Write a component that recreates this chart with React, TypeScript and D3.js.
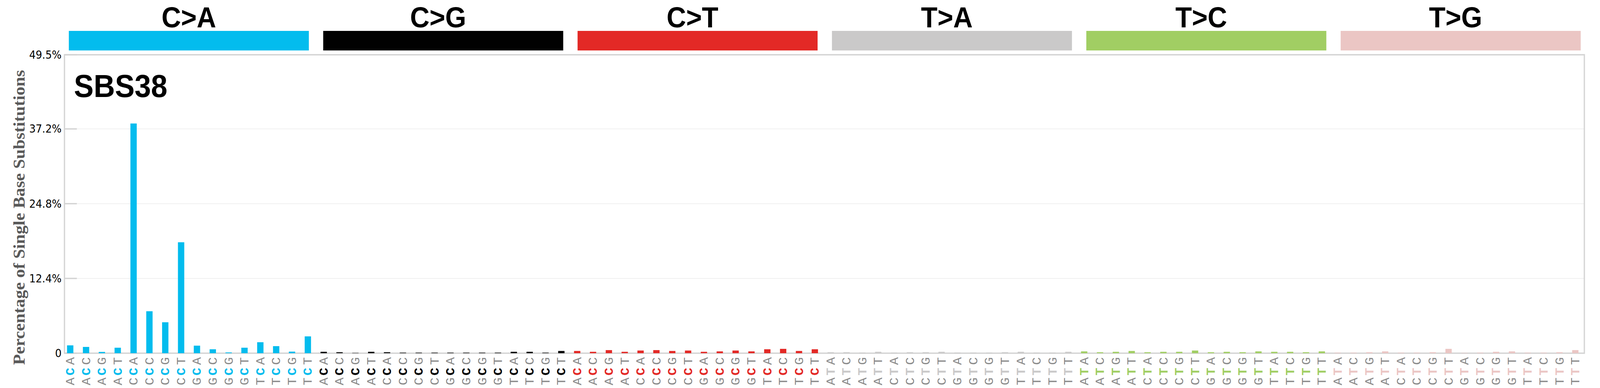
import React from 'react';
import * as d3 from 'd3';

// Mutation classes shown in the coloured header strip
const mutationTypes = ['C>A', 'C>G', 'C>T', 'T>A', 'T>C', 'T>G'];
const typeColors = ['#03BCEE', '#010101', '#E32926', '#CAC9C9', '#A1CE63', '#EBC6C4'];

// Trinucleotide contexts (5' base, mutated base, 3' base)
const cContexts = ['ACA', 'ACC', 'ACG', 'ACT', 'CCA', 'CCC', 'CCG', 'CCT', 'GCA', 'GCC', 'GCG', 'GCT', 'TCA', 'TCC', 'TCG', 'TCT'];
const tContexts = ['ATA', 'ATC', 'ATG', 'ATT', 'CTA', 'CTC', 'CTG', 'CTT', 'GTA', 'GTC', 'GTG', 'GTT', 'TTA', 'TTC', 'TTG', 'TTT'];

// Percentages
const caValues = [1.30, 1.04, 0.21, 0.91, 38.1, 6.96, 5.13, 18.4, 1.25, 0.65, 0.13, 0.91, 1.82, 1.17, 0.26, 2.79];
const cgValues = [0.23, 0.16, 0.05, 0.23, 0.16, 0.09, 0.09, 0.09, 0.09, 0.09, 0.09, 0.09, 0.23, 0.23, 0.09, 0.37];
const ctValues = [0.37, 0.23, 0.51, 0.23, 0.44, 0.51, 0.37, 0.44, 0.23, 0.30, 0.44, 0.30, 0.65, 0.72, 0.37, 0.65];
const taValues = [0.16, 0.16, 0.09, 0.23, 0.09, 0.16, 0.16, 0.23, 0.09, 0.09, 0.09, 0.16, 0.23, 0.09, 0.09, 0.23];
const tcValues = [0.30, 0.16, 0.23, 0.37, 0.16, 0.23, 0.23, 0.44, 0.16, 0.23, 0.16, 0.30, 0.23, 0.23, 0.16, 0.30];
const tgValues = [0.09, 0.09, 0.16, 0.30, 0.09, 0.09, 0.16, 0.72, 0.05, 0.09, 0.23, 0.30, 0.09, 0.09, 0.16, 0.51];

const yTicks = [0, 12.4, 24.8, 37.2, 49.5];
const yTickLabels = ['0', '12.4%', '24.8%', '37.2%', '49.5%'];

const signatureName = 'SBS38';
const yTitle = 'Percentage of Single Base Substitutions';

interface Bar {
  key: string;
  context: string;
  type: number;
  value: number;
}

const groupValues = [caValues, cgValues, ctValues, taValues, tcValues, tgValues];

const bars: Bar[] = mutationTypes.flatMap((t, g) =>
  (g < 3 ? cContexts : tContexts).map((ctx, i) => ({
    key: `${t}:${ctx}`,
    context: ctx,
    type: g,
    value: groupValues[g][i],
  }))
);

const W = 4393;
const H = 992;
const frame = { left: 177, right: 4350, top: 140, bottom: 903 };

// vertical centres of the three stacked letters under each bar (3' on top)
const letterY = [975, 950, 923];

const App = () => {
  // bar positions
  const x = d3.scaleBand<string>()
    .domain(bars.map(d => d.key))
    .range([171, 171 + 96 * 43.5])
    .padding(0);
  const step = x.step();

  const y = d3.scaleLinear()
    .domain([0, 49.5])
    .range([frame.bottom, frame.top]);

  // header strip boxes
  const gx = d3.scaleBand<string>()
    .domain(mutationTypes)
    .range([189, 4340])
    .paddingInner(0.0564)
    .paddingOuter(0);

  return (
    <svg
      viewBox={`0 0 ${W} ${H}`}
      preserveAspectRatio="none"
      style={{ position: 'fixed', left: 0, top: 0, width: '100vw', height: '100vh', display: 'block', background: '#fff' }}
    >
      <rect x={0} y={0} width={W} height={H} fill="#fff" />

      {/* header strip */}
      {mutationTypes.map((t, g) => (
        <g key={t}>
          <rect x={gx(t)} y={79} width={gx.bandwidth()} height={50} fill={typeColors[g]} />
          <text
            x={(gx(t) ?? 0) + gx.bandwidth() / 2 - (g === 0 ? 0 : 14)}
            y={70}
            textAnchor="middle"
            fontFamily="Liberation Sans, Arial, sans-serif"
            fontWeight="bold"
            fontSize={74}
            fill="#000"
          >
            {t}
          </text>
        </g>
      ))}

      {/* gridlines */}
      {yTicks.map(t => (
        <line key={`grid-${t}`} x1={frame.left} x2={frame.right} y1={y(t)} y2={y(t)} stroke="#ebebeb" strokeWidth={1.5} />
      ))}

      {/* frame */}
      <rect
        x={frame.left}
        y={frame.top}
        width={frame.right - frame.left}
        height={frame.bottom - frame.top}
        fill="none"
        stroke="#d4d4d4"
        strokeWidth={3.5}
      />

      {/* y ticks */}
      {yTicks.map((t, i) => (
        <g key={`tick-${t}`}>
          <line x1={frame.left} x2={frame.left + 34} y1={y(t)} y2={y(t)} stroke="#d4d4d4" strokeWidth={3.5} />
          <text
            x={169}
            y={y(t)}
            textAnchor="end"
            dominantBaseline="central"
            fontFamily="DejaVu Sans, sans-serif"
            fontSize={28}
            fill="#000"
          >
            {yTickLabels[i]}
          </text>
        </g>
      ))}

      {/* bars */}
      {bars.map(d => (
        <rect
          key={d.key}
          x={(x(d.key) ?? 0) + step * 0.3}
          y={y(d.value)}
          width={step * 0.4}
          height={y(0) - y(d.value)}
          fill={typeColors[d.type]}
        />
      ))}

      {/* x labels: one rotated letter per base */}
      {bars.map(d => {
        const cx = (x(d.key) ?? 0) + step / 2;
        return (
          <g key={`lab-${d.key}`}>
            {d.context.split('').map((ch, k) => (
              <text
                key={k}
                transform={`translate(${cx + 11},${letterY[k]}) rotate(-90)`}
                textAnchor="middle"
                fontFamily="Liberation Mono, Courier New, monospace"
                fontSize={33}
                fontWeight={k === 1 ? 'bold' : 'normal'}
                fill={k === 1 ? typeColors[d.type] : '#8a8a8a'}
              >
                {ch}
              </text>
            ))}
          </g>
        );
      })}

      {/* signature name */}
      <text
        x={203}
        y={248}
        fontFamily="Liberation Sans, Arial, sans-serif"
        fontWeight="bold"
        fontSize={81}
        fill="#000"
      >
        {signatureName}
      </text>

      {/* y axis title */}
      <text
        transform={`translate(68,556) rotate(-90)`}
        textAnchor="middle"
        fontFamily="Liberation Serif, Times New Roman, serif"
        fontWeight="bold"
        fontSize={45}
        fill="#595959"
      >
        {yTitle}
      </text>
    </svg>
  );
};

export default App;
